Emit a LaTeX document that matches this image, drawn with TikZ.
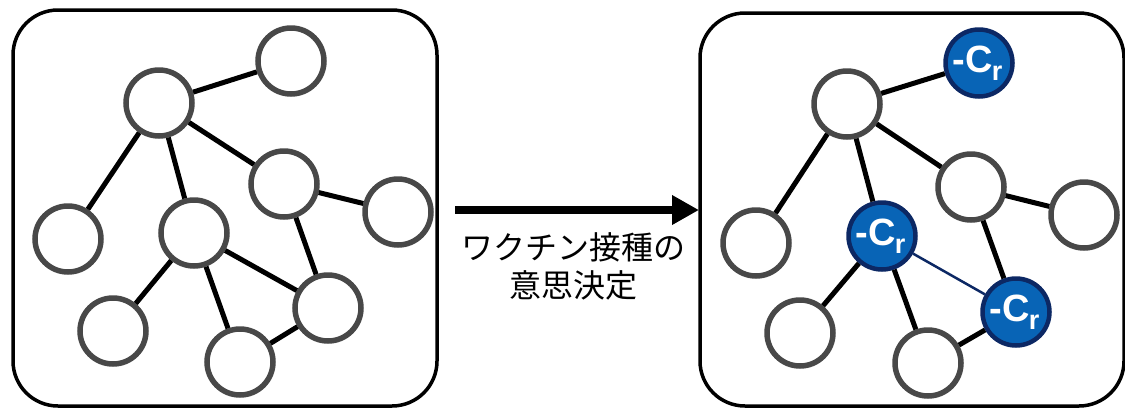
\documentclass[tikz,border=0pt]{standalone}
\usepackage{fontspec}
\setmainfont{Liberation Sans}
\newfontfamily\jpfont{Noto Sans CJK JP}
\usetikzlibrary{arrows.meta}
\definecolor{ringgray}{RGB}{72,72,72}
\definecolor{vblue}{RGB}{8,100,182}
\definecolor{vnavy}{RGB}{12,40,100}
\tikzset{
  nd/.style={circle,draw=ringgray,line width=5.5pt,fill=white,minimum size=66pt,inner sep=0pt},
  vac/.style={circle,draw=vnavy,line width=4.5pt,fill=vblue,minimum size=67pt,inner sep=0pt,text=white,font=\fontsize{38}{38}\selectfont\bfseries},
  ed/.style={line width=5pt,black},
  panel/.style={draw=black,line width=3.5pt,rounded corners=45pt},
}
\newcommand{\crlabel}{\hspace*{-3pt}-C\kern-1pt\raisebox{-8pt}{\fontsize{27}{27}\selectfont r}}
\begin{document}
\begin{tikzpicture}[x=1pt,y=-1pt]
\useasboundingbox (0,0) rectangle (1125,408);
% left panel
\draw[panel] (13,10) rectangle (437,406);
\node[nd] (a1) at (291,61) {};
\node[nd] (a2) at (159,103) {};
\node[nd] (a3) at (284,184) {};
\node[nd] (a4) at (398,212) {};
\node[nd] (a5) at (68,239) {};
\node[nd] (a6) at (194,233) {};
\node[nd] (a7) at (113,331) {};
\node[nd] (a8) at (240,362) {};
\node[nd] (a9) at (328,308) {};
% right panel
\draw[panel] (700,13) rectangle (1124,406);
\node[vac] (b1) at (979,63) {\crlabel};
\node[nd] (b2) at (847,104) {};
\node[nd] (b3) at (971,187) {};
\node[nd] (b4) at (1084,215) {};
\node[nd] (b5) at (756,243) {};
\node[vac] (b6) at (882,236) {\crlabel};
\node[nd] (b7) at (800,333) {};
\node[nd] (b8) at (928,363) {};
\node[vac] (b9) at (1016,312) {\crlabel};
% edges left
\foreach \p/\q in {a2/a1,a2/a5,a2/a6,a2/a3,a3/a4,a3/a9,a6/a7,a6/a8,a6/a9,a8/a9}
  \draw[ed] (\p) -- (\q);
% edges right
\foreach \p/\q in {b2/b1,b2/b5,b2/b6,b2/b3,b3/b4,b3/b9,b6/b7,b6/b8,b8/b9}
  \draw[ed] (\p) -- (\q);
\draw[vnavy,line width=2.5pt] (b6) -- (b9);
% arrow
\coordinate (s) at (455,210);
\coordinate (e) at (699,210);
\draw[line width=8pt,-{Triangle[length=27pt,width=28pt]}] (s) -- (e);
\node[font=\jpfont\fontsize{32}{38}\selectfont,align=center] (lbl) at (573,266) {ワクチン接種の\\意思決定};
\end{tikzpicture}
\end{document}
